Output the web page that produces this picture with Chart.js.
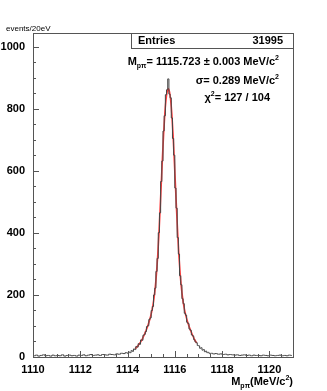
<!DOCTYPE html>
<html>
<head>
<meta charset="utf-8">
<script src="https://cdn.jsdelivr.net/npm/chart.js@4.4.0/dist/chart.umd.min.js"></script>
<style>
  html, body { margin: 0; padding: 0; background: #fff; }
  #wrap { width: 327px; height: 391px; }
</style>
</head>
<body>
<div id="wrap"><canvas id="massChart" width="327" height="391"></canvas></div>
<script>
// Lambda -> p pi invariant mass, events per bin
const xTicks = [1110, 1112, 1114, 1116, 1118, 1120];
const yTicks = [0, 200, 400, 600, 800, 1000];

// low side tail, bins 1110.0 .. 1114.0 (0.1 MeV wide)
const lowTailStart = 1110.05;
const lowTail = [4, 6, 3, 5, 7, 4, 5, 3, 6, 4,
                 5, 4, 7, 3, 5, 6, 4, 5, 3, 6,
                 5, 7, 4, 6, 8, 5, 6, 7, 5, 8,
                 7, 6, 9, 8, 7, 10, 9, 12, 11, 14];

// peak region, bins 1114.0 .. 1117.5 (0.05 MeV wide)
const peakStart = 1114.025;
const peakCounts = [12, 16, 14, 21, 18, 26, 24, 34, 32, 43,
                    41, 55, 54, 70, 73, 82, 98, 101, 121, 126,
                    150, 163, 200, 222, 276, 318, 401, 465, 566, 632,
                    729, 778, 846, 862, 897, 848, 836, 771, 705, 651,
                    545, 480, 385, 332, 262, 233, 188, 172, 141, 135,
                    112, 108, 90, 86, 71, 68, 56, 49, 46, 37,
                    36, 28, 30, 22, 24, 17, 19, 14, 15, 11];

// high side tail, bins 1117.5 .. 1121.0 (0.1 MeV wide)
const highTailStart = 1117.55;
const highTail = [12, 10, 11, 9, 10, 8, 9, 7, 8, 7,
                  6, 7, 5, 6, 7, 5, 6, 4, 6, 5,
                  5, 4, 6, 5, 4, 6, 5, 4, 5, 6,
                  4, 5, 4, 6, 5];

// fitted curve
const fitStart = 1114.325;
const fitStep = 0.05;
const fitValues = [27, 31, 35, 40, 45, 51, 58, 66, 75, 84,
                   94, 105, 117, 131, 147, 167, 193, 226, 270, 325,
                   393, 472, 556, 640, 718, 782, 828, 855, 865, 855,
                   828, 782, 718, 640, 556, 472, 393, 325, 270, 226,
                   193, 167, 147, 131, 117, 105, 94, 84, 75, 66,
                   58, 51, 45];

const entries = 31995;
const massFit = '1115.723';
const massErr = '0.003';
const sigmaFit = '0.289';
const chi2 = '127 / 104';

function toPoints(start, step, vals) {
    return vals.map((v, i) => ({ x: +(start + i * step).toFixed(3), y: v }));
}

const histPoints = [].concat(
    toPoints(lowTailStart, 0.1, lowTail),
    toPoints(peakStart, 0.05, peakCounts),
    toPoints(highTailStart, 0.1, highTail)
);
const fitPoints = toPoints(fitStart, fitStep, fitValues);

const FONT = '"Liberation Sans", Arial, Helvetica, sans-serif';

// draws text runs with sub/superscripts
function drawRuns(ctx, runs, x, y, align) {
    let total = 0;
    runs.forEach(r => {
        ctx.font = `bold ${r.size}px ${FONT}`;
        r.w = ctx.measureText(r.t).width;
        total += r.w;
    });
    let cx = align === 'right' ? x - total : x;
    ctx.textAlign = 'left';
    ctx.textBaseline = 'alphabetic';
    runs.forEach(r => {
        ctx.font = `bold ${r.size}px ${FONT}`;
        ctx.fillText(r.t, cx, y + (r.dy || 0));
        cx += r.w;
    });
}

const rootDecor = {
    id: 'rootDecor',
    afterDraw(chart) {
        const ctx = chart.ctx;
        const a = chart.chartArea;
        const xs = chart.scales.x;
        const ys = chart.scales.y;
        ctx.save();
        ctx.strokeStyle = '#555';
        ctx.lineWidth = 1;

        // frame
        ctx.strokeRect(Math.round(a.left) + 0.5, Math.round(a.top) + 0.5,
            Math.round(a.right - a.left), Math.round(a.bottom - a.top));

        // inner tick marks
        ctx.beginPath();
        for (let v = 0; v <= 1000; v += 50) {
            const py = Math.round(ys.getPixelForValue(v)) + 0.5;
            const len = v % 200 === 0 ? 6 : 3;
            ctx.moveTo(a.left, py);
            ctx.lineTo(a.left + len, py);
        }
        for (let m = 1110; m <= 1121; m += 0.5) {
            const px = Math.round(xs.getPixelForValue(m)) + 0.5;
            const len = m % 2 === 0 ? 6 : 3;
            ctx.moveTo(px, a.bottom);
            ctx.lineTo(px, a.bottom - len);
        }
        ctx.stroke();

        // stats box
        ctx.fillStyle = '#fff';
        ctx.fillRect(131, a.top + 1, a.right - 131 - 1, 15);
        ctx.strokeStyle = '#555';
        ctx.strokeRect(131.5, Math.round(a.top) + 0.5, Math.round(a.right) - 131, 15);
        ctx.fillStyle = '#000';
        ctx.font = `bold 11px ${FONT}`;
        ctx.textBaseline = 'middle';
        ctx.textAlign = 'left';
        ctx.fillText('Entries', 138, a.top + 8);
        ctx.textAlign = 'right';
        ctx.fillText(String(entries), 283, a.top + 8);

        // fit results
        drawRuns(ctx, [
            { t: 'M', size: 11 },
            { t: 'pπ', size: 7, dy: 3 },
            { t: '= ' + massFit + ' ± ' + massErr + ' MeV/c', size: 11 },
            { t: '2', size: 7, dy: -5 }
        ], 279, 65, 'right');
        drawRuns(ctx, [
            { t: 'σ= ' + sigmaFit + ' MeV/c', size: 11 },
            { t: '2', size: 7, dy: -5 }
        ], 279, 84, 'right');
        drawRuns(ctx, [
            { t: 'χ', size: 11 },
            { t: '2', size: 7, dy: -5 },
            { t: '= ' + chi2, size: 11 }
        ], 270, 101, 'right');

        // axis titles
        ctx.font = `8px ${FONT}`;
        ctx.textAlign = 'left';
        ctx.textBaseline = 'middle';
        ctx.fillText('events/20eV', 6, 29);
        drawRuns(ctx, [
            { t: 'M', size: 11 },
            { t: 'pπ', size: 7, dy: 3 },
            { t: '(MeV/c', size: 11 },
            { t: '2', size: 7, dy: -5 },
            { t: ')', size: 11 }
        ], 293, 385, 'right');
        ctx.restore();
    }
};

new Chart(document.getElementById('massChart').getContext('2d'), {
    type: 'line',
    data: {
        datasets: [{
            label: 'data',
            data: histPoints,
            borderColor: '#444',
            borderWidth: 1,
            pointRadius: 0,
            stepped: 'middle',
            fill: false
        }, {
            label: 'fit',
            data: fitPoints,
            borderColor: 'rgba(255, 40, 40, 0.9)',
            borderWidth: 1.6,
            pointRadius: 0,
            cubicInterpolationMode: 'monotone',
            fill: false
        }]
    },
    options: {
        responsive: false,
        animation: false,
        layout: { padding: { left: 0, right: 34, top: 33, bottom: 0 } },
        plugins: {
            legend: { display: false },
            tooltip: { enabled: false }
        },
        scales: {
            x: {
                type: 'linear',
                min: 1110,
                max: 1121,
                grid: { display: false },
                border: { display: false },
                afterBuildTicks: s => { s.ticks = xTicks.map(v => ({ value: v })); },
                afterFit: s => { s.height = 34; },
                ticks: {
                    maxRotation: 0,
                    padding: -2,
                    color: '#000',
                    font: { family: FONT, size: 11, weight: 'bold' },
                    callback: v => String(v)
                }
            },
            y: {
                type: 'linear',
                min: 0,
                max: 1045,
                grid: { display: false },
                border: { display: false },
                afterBuildTicks: s => { s.ticks = yTicks.map(v => ({ value: v })); },
                afterFit: s => { s.width = 33; },
                ticks: {
                    padding: 0,
                    color: '#000',
                    font: { family: FONT, size: 11, weight: 'bold' },
                    callback: v => String(v)
                }
            }
        }
    },
    plugins: [rootDecor]
});
</script>
</body>
</html>
